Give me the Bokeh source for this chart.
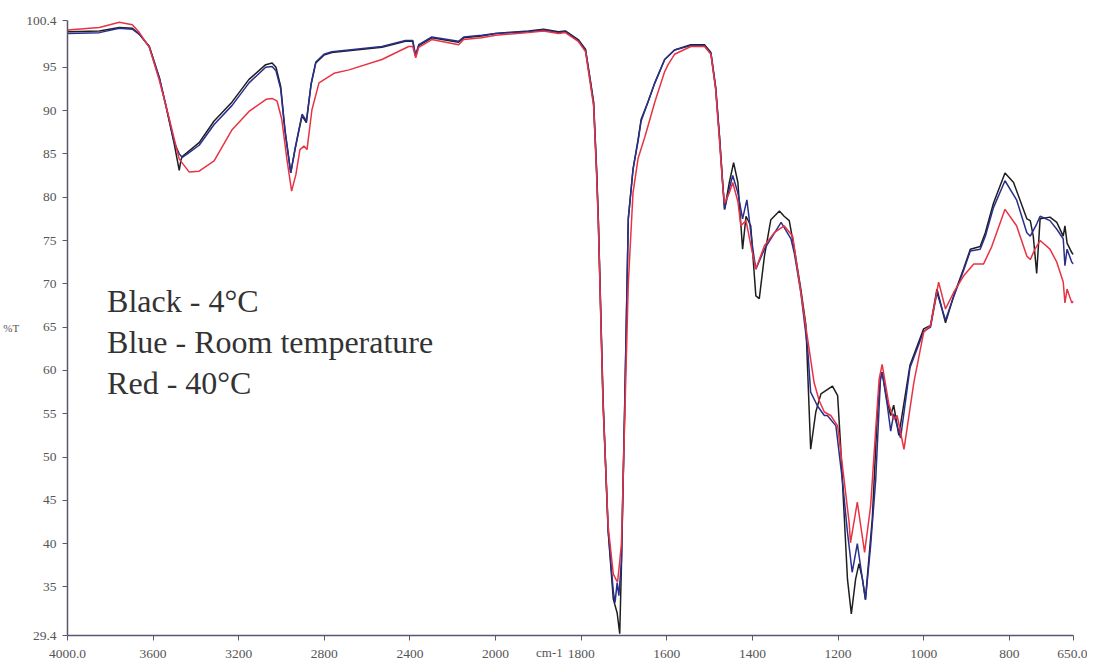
import numpy as np
from bokeh.plotting import figure
from bokeh.models import FixedTicker, Label, Range1d
from bokeh.embed import file_html
from bokeh.resources import INLINE

# ---------------- data (wavenumber cm-1, %T) ----------------
black_wn = [4000, 3851, 3758, 3697, 3664, 3618, 3571, 3540, 3501, 3478, 3470, 3464, 3385, 3315, 3231,
            3152, 3074, 3044, 3026, 3004, 2984, 2957, 2937, 2918, 2904, 2884, 2862, 2840, 2802, 2765,
            2531, 2421, 2387, 2374, 2359, 2298, 2173, 2149, 2065, 2000,
            1923, 1888, 1853, 1837, 1807, 1790, 1779, 1771, 1764, 1760, 1749, 1737, 1725, 1716, 1710,
            1706, 1698, 1690, 1679, 1667, 1660, 1644, 1628, 1605, 1582, 1544, 1512, 1497, 1486, 1477,
            1469, 1465, 1454, 1444, 1434, 1423, 1415, 1404, 1392, 1384, 1372, 1357, 1337, 1326, 1314,
            1302, 1287, 1275, 1271, 1264, 1252, 1240, 1213, 1201, 1194, 1186, 1178, 1169, 1159, 1151,
            1143, 1136, 1120, 1108, 1101, 1097, 1085, 1077, 1070, 1058, 1032, 1000, 984, 969, 949,
            930, 907, 891, 868, 856, 837, 810, 790, 759, 751, 744, 736, 728, 705, 689, 674, 670, 665,
            654, 650]
black_T = [99.1, 99.2, 99.6, 99.5, 98.8, 97.4, 93.8, 90.5, 86.1, 83.1, 84.3, 84.7, 86.3, 88.8, 91.0,
           93.6, 95.3, 95.5, 95.0, 92.8, 87.8, 82.8, 85.5, 87.8, 89.4, 88.6, 93.0, 95.5, 96.4, 96.7,
           97.3, 98.0, 98.0, 96.3, 97.5, 98.4, 97.9, 98.4, 98.6, 98.9,
           99.2, 99.4, 99.1, 99.2, 98.2, 97.1, 93.6, 91.0, 83.2, 77.5, 56.7, 41.4, 33.6, 32.0, 29.6,
           37.5, 56.7, 77.5, 83.2, 86.7, 89.0, 91.0, 93.2, 95.9, 97.0, 97.6, 97.6, 96.7, 92.8, 87.1,
           81.3, 78.6, 81.7, 84.0, 81.7, 74.0, 77.8, 76.7, 68.6, 68.3, 73.2, 77.4, 78.4, 77.8, 77.3,
           74.0, 69.4, 65.2, 60.0, 50.9, 55.2, 57.3, 58.2, 57.1, 51.3, 43.6, 35.9, 31.9, 35.9, 37.7,
           35.9, 33.6, 42.9, 55.2, 59.0, 59.8, 56.4, 54.8, 56.0, 52.5, 60.6, 64.8, 65.2, 69.4, 65.5,
           68.6, 71.7, 74.0, 74.3, 75.9, 79.3, 82.8, 81.7, 77.5, 77.3, 75.5, 71.2, 77.5, 77.7, 77.1,
           75.5, 76.7, 74.7, 73.6, 73.4]

blue_wn = [4000, 3851, 3758, 3697, 3664, 3618, 3571, 3540, 3501, 3478, 3464, 3440, 3385, 3315, 3231,
           3152, 3074, 3044, 3026, 3004, 2984, 2957, 2937, 2918, 2904, 2884, 2862, 2840, 2802, 2765,
           2531, 2421, 2387, 2374, 2359, 2298, 2173, 2149, 2065, 2000,
           1923, 1888, 1853, 1837, 1807, 1790, 1779, 1771, 1764, 1760, 1749, 1737, 1725, 1721, 1716,
           1712, 1706, 1698, 1690, 1679, 1667, 1660, 1644, 1628, 1605, 1582, 1544, 1512, 1497, 1486,
           1477, 1469, 1465, 1454, 1446, 1434, 1423, 1413, 1399, 1392, 1372, 1333, 1310, 1302, 1287,
           1271, 1264, 1248, 1232, 1225, 1205, 1190, 1178, 1167, 1155, 1136, 1124, 1112, 1101, 1097,
           1085, 1077, 1070, 1054, 1032, 1000, 984, 969, 949, 930, 907, 891, 868, 856, 837, 810, 783,
           759, 751, 736, 728, 705, 689, 674, 670, 665, 654, 650]
blue_T = [98.9, 99.0, 99.5, 99.4, 98.8, 97.4, 93.8, 90.6, 86.3, 85.0, 84.6, 85.0, 86.0, 88.4, 90.6,
          93.2, 95.0, 95.1, 94.6, 92.5, 87.6, 82.8, 85.6, 87.9, 89.6, 88.8, 93.1, 95.6, 96.5, 96.8,
          97.4, 98.1, 98.1, 96.4, 97.6, 98.5, 98.0, 98.5, 98.7, 98.9,
          99.1, 99.3, 99.0, 99.1, 98.1, 97.0, 93.5, 90.8, 83.0, 77.3, 56.5, 41.5, 34.5, 33.2, 35.5,
          34.0, 38.0, 57.0, 77.5, 83.2, 86.5, 88.8, 91.0, 93.2, 95.9, 97.0, 97.5, 97.5, 96.6, 92.6,
          87.0, 81.2, 78.6, 81.0, 82.5, 80.5, 77.5, 79.7, 74.0, 71.7, 74.0, 77.1, 75.2, 73.5, 69.0,
          62.5, 57.5, 55.9, 54.8, 54.8, 53.6, 47.4, 41.3, 36.7, 40.0, 33.5, 39.7, 47.4, 59.0, 59.8,
          56.0, 53.0, 55.0, 52.2, 60.3, 64.5, 65.0, 69.0, 65.8, 68.5, 71.5, 73.8, 74.0, 75.5, 78.8,
          81.9, 79.7, 75.9, 75.5, 76.9, 77.8, 77.3, 76.3, 75.2, 72.1, 74.0, 72.5, 72.3]

red_wn = [4000, 3851, 3758, 3697, 3664, 3618, 3571, 3524, 3478, 3431, 3385, 3315, 3231, 3152, 3072,
          3044, 3021, 2999, 2975, 2953, 2933, 2914, 2895, 2881, 2858, 2825, 2755, 2685, 2531, 2406,
          2387, 2373, 2359, 2298, 2173, 2149, 2065, 2000,
          1923, 1888, 1853, 1837, 1807, 1790, 1779, 1771, 1764, 1760, 1749, 1737, 1725, 1718, 1715,
          1712, 1706, 1698, 1690, 1679, 1667, 1651, 1628, 1605, 1597, 1582, 1544, 1512, 1497, 1486,
          1477, 1469, 1465, 1454, 1446, 1434, 1427, 1415, 1404, 1392, 1372, 1349, 1326, 1306, 1279,
          1256, 1244, 1232, 1217, 1201, 1186, 1174, 1171, 1155, 1138, 1124, 1112, 1104, 1097, 1081,
          1070, 1062, 1046, 1023, 1000, 984, 965, 949, 930, 907, 883, 860, 841, 810, 783, 759, 751,
          740, 728, 705, 689, 674, 670, 665, 654, 650]
red_T = [99.3, 99.6, 100.2, 99.9, 99.0, 97.3, 93.5, 89.0, 84.4, 82.9, 83.0, 84.2, 87.8, 89.9, 91.3,
         91.4, 91.1, 89.0, 84.4, 80.7, 82.6, 85.5, 85.9, 85.5, 90.1, 93.2, 94.3, 94.7, 95.9, 97.4,
         97.4, 96.1, 97.3, 98.2, 97.6, 98.2, 98.4, 98.7,
         99.0, 99.2, 98.9, 99.0, 98.0, 96.8, 93.2, 90.5, 82.5, 77.0, 56.0, 42.0, 36.5, 35.8, 35.6,
         37.0, 40.0, 55.0, 70.0, 80.5, 84.5, 87.0, 91.0, 94.5, 95.3, 96.5, 97.4, 97.4, 96.5, 92.5,
         86.5, 81.0, 79.3, 80.5, 81.7, 79.5, 76.7, 77.3, 74.5, 71.7, 74.4, 75.9, 76.7, 75.5, 66.3,
         58.6, 56.5, 55.2, 54.8, 53.6, 47.4, 42.4, 40.1, 44.8, 39.0, 44.3, 53.2, 59.0, 60.7, 56.0,
         54.4, 54.8, 50.9, 58.6, 64.4, 65.2, 70.2, 67.1, 69.0, 70.9, 72.3, 72.3, 74.3, 78.6, 76.7,
         73.2, 72.8, 74.0, 75.0, 74.0, 72.5, 70.2, 67.8, 69.4, 67.8, 68.0]

x_tick_values = [4000, 3600, 3200, 2800, 2400, 2000, 1800, 1600, 1400, 1200, 1000, 800, 650]
x_tick_labels = ["4000.0", "3600", "3200", "2800", "2400", "2000", "1800", "1600", "1400",
                 "1200", "1000", "800", "650.0"]
y_tick_values = [29.4, 35, 40, 45, 50, 55, 60, 65, 70, 75, 80, 85, 90, 95, 100.4]
y_tick_labels = ["29.4", "35", "40", "45", "50", "55", "60", "65", "70", "75", "80", "85",
                 "90", "95", "100.4"]
legend_texts = ["Black - 4°C", "Blue - Room temperature", "Red - 40°C"]
x_title = "cm-1"
y_title = "%T"


def to_u(wn):
    """Instrument abscissa: scale doubles below 2000 cm-1."""
    wn = np.asarray(wn, dtype=float)
    return np.where(wn >= 2000, 4000 - wn, 2000 + 2 * (2000 - wn))


SERIF = "Liberation Serif"

p = figure(width=1087, height=662, output_backend="svg", toolbar_location=None,
           x_range=Range1d(0, 4700), y_range=Range1d(29.4, 100.4),
           min_border_left=62, min_border_right=14, min_border_top=20, min_border_bottom=26)
p.xgrid.visible = False
p.ygrid.visible = False
p.outline_line_color = None
p.background_fill_color = "white"
p.border_fill_color = "white"

axis_col = "#5e5670"
for ax in (p.xaxis, p.yaxis):
    ax.axis_line_color = axis_col
    ax.axis_line_width = 1.5
    ax.major_tick_line_color = axis_col
    ax.major_tick_in = 0
    ax.major_tick_out = 5
    ax.minor_tick_line_color = None
    ax.major_label_text_font = SERIF
    ax.major_label_text_font_size = "13.5px"
    ax.major_label_text_color = "#555555"
    ax.major_label_standoff = 6
p.xaxis.major_label_standoff = 9

xt = [int(v) for v in to_u(x_tick_values)]
p.xaxis.ticker = FixedTicker(ticks=xt)
p.xaxis.major_label_overrides = {u: lab for u, lab in zip(xt, x_tick_labels)}
p.yaxis.ticker = FixedTicker(ticks=y_tick_values)
p.yaxis.major_label_overrides = {v: lab for v, lab in zip(y_tick_values, y_tick_labels)}

p.yaxis.axis_label = y_title
p.yaxis.axis_label_orientation = "horizontal"
p.yaxis.axis_label_text_font = SERIF
p.yaxis.axis_label_text_font_style = "normal"
p.yaxis.axis_label_text_font_size = "11px"
p.yaxis.axis_label_text_color = "#555555"
p.yaxis.axis_label_standoff = 4

# x-axis title, shifted left of the axis centre (non-breaking padding) and tucked up
p.xaxis.axis_label = x_title + "\u00a0" * 13
p.xaxis.axis_label_text_font = SERIF
p.xaxis.axis_label_text_font_style = "normal"
p.xaxis.axis_label_text_font_size = "13px"
p.xaxis.axis_label_text_color = "#555555"
p.xaxis.axis_label_standoff = -16

p.line(to_u(black_wn), black_T, line_color="#1e1e1e", line_width=1.5)
p.line(to_u(blue_wn), blue_T, line_color="#2a2f8c", line_width=1.5)
p.line(to_u(red_wn), red_T, line_color="#e83344", line_width=1.5)

leg_y = [68.0, 63.3, 58.5]
for txt, yy in zip(legend_texts, leg_y):
    p.add_layout(Label(x=float(to_u(3815)), y=yy, text=txt, text_font=SERIF,
                       text_font_size="32px", text_color="#333333", text_baseline="middle"))

open("out.html", "w").write(file_html(p, INLINE))
